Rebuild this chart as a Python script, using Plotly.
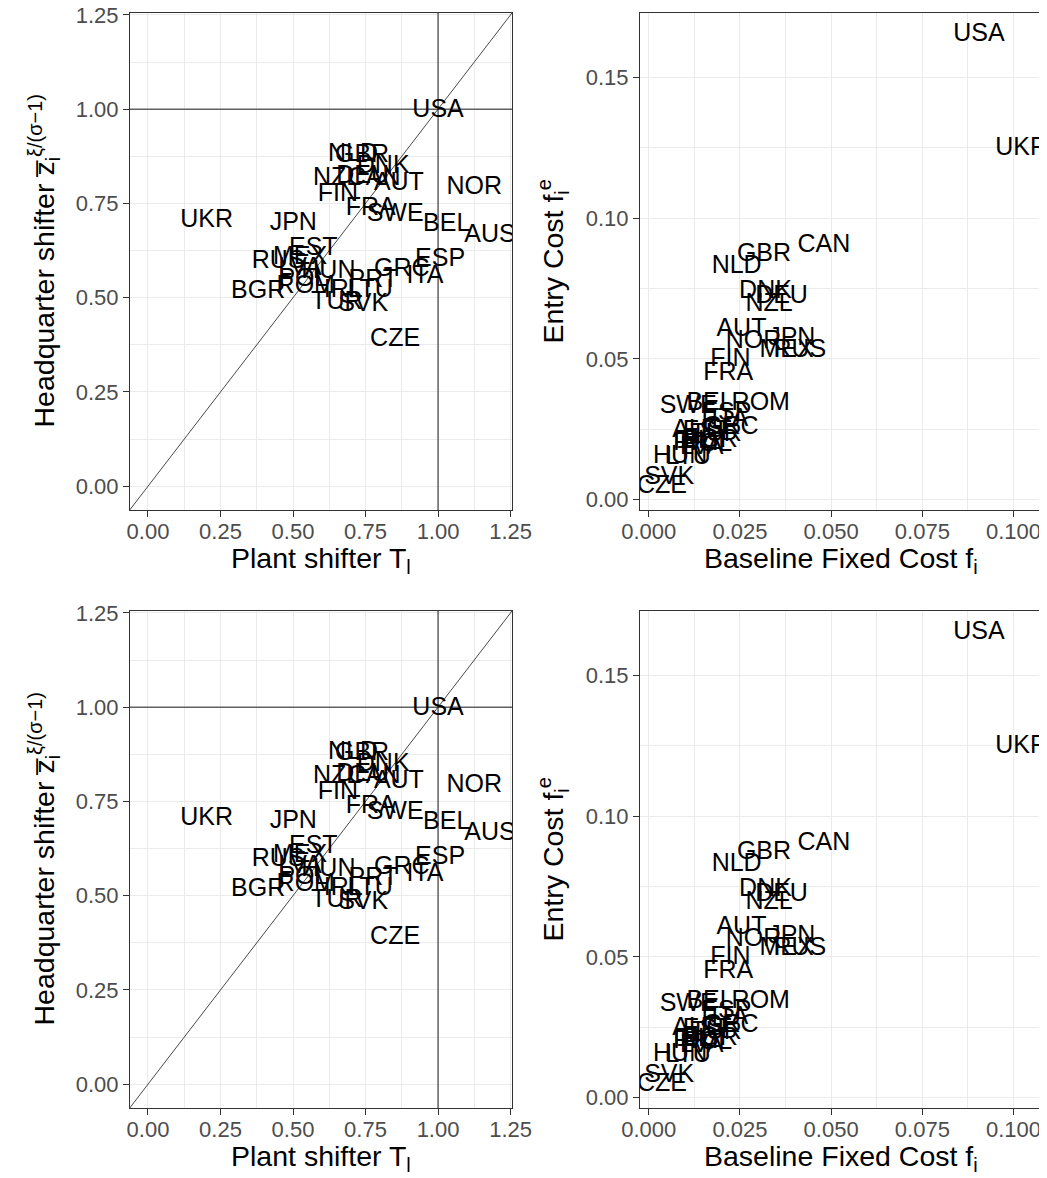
import plotly.graph_objects as go

# ---------------- data ----------------
countries = ["USA", "UKR", "CAN", "GBR", "NLD", "DNK", "DEU", "NZL", "AUT", "NOR", "JPN",
             "MEX", "AUS", "FIN", "FRA", "SWE", "BEL", "ROM", "ESP", "ITA", "GRC", "PRT",
             "POL", "IRL", "EST", "LVA", "HUN", "LTU", "SVK", "CZE", "TUR", "BGR", "RUS"]

plant_shifter = [1.000, 0.202, 0.780, 0.738, 0.707, 0.811, 0.740, 0.650, 0.865, 1.125, 0.501,
                 0.524, 1.179, 0.655, 0.768, 0.852, 1.030, 0.544, 1.007, 0.955, 0.875, 0.777,
                 0.536, 0.673, 0.570, 0.524, 0.622, 0.766, 0.742, 0.852, 0.651, 0.380, 0.449]

hq_shifter = [0.995, 0.705, 0.815, 0.876, 0.878, 0.847, 0.820, 0.815, 0.802, 0.791, 0.697,
              0.607, 0.664, 0.772, 0.735, 0.721, 0.693, 0.530, 0.601, 0.556, 0.574, 0.545,
              0.548, 0.519, 0.631, 0.578, 0.569, 0.519, 0.481, 0.388, 0.486, 0.516, 0.596]

fixed_cost = [0.0905, 0.1022, 0.0480, 0.0316, 0.0241, 0.0320, 0.0364, 0.0330, 0.0254, 0.0287, 0.0392,
              0.0378, 0.0135, 0.0224, 0.0218, 0.0108, 0.0168, 0.0307, 0.0213, 0.0222, 0.0225, 0.0135,
              0.0160, 0.0120, 0.0160, 0.0145, 0.0086, 0.0108, 0.0056, 0.0036, 0.0185, 0.0170, 0.0414]

entry_cost = [0.1650, 0.1245, 0.0902, 0.0871, 0.0829, 0.0740, 0.0722, 0.0693, 0.0604, 0.0560, 0.0572,
              0.0530, 0.0245, 0.0497, 0.0447, 0.0329, 0.0341, 0.0341, 0.0306, 0.0282, 0.0255, 0.0200,
              0.0195, 0.0205, 0.0240, 0.0185, 0.0154, 0.0147, 0.0079, 0.0044, 0.0230, 0.0210, 0.0530]

left_x_ticks = [0.0, 0.25, 0.5, 0.75, 1.0, 1.25]
left_y_ticks = [0.0, 0.25, 0.5, 0.75, 1.0, 1.25]
right_x_ticks = [0.0, 0.025, 0.05, 0.075, 0.1]
right_y_ticks = [0.0, 0.05, 0.1, 0.15]

reference_level = 1.0  # hline / vline in the left panels

# ---------------- layout helpers ----------------
PAGE_W, PAGE_H = 1047, 1178
OFF = 8  # default body margin of the html page
W, H = PAGE_W - OFF, PAGE_H - OFF
FONT = "Liberation Sans, Arial, sans-serif"


def xdom(a, b):
    return [(a - OFF) / W, (b - OFF) / W]


def ydom(top, bottom):
    return [1 - (bottom - OFF) / H, 1 - (top - OFF) / H]


def px_x(p):
    return (p - OFF) / W


def px_y(p):
    return 1 - (p - OFF) / H


left_xr = [-0.062, 1.255]
left_yr = [-0.063, 1.255]
right_xr = [-0.0024, 0.1078]
right_yr = [-0.0037, 0.1729]

cols = {"L": (130, 512), "R": (640, 1042)}
rows = [(13, 510), (611, 1108)]

fig = go.Figure()


def axis_common(rng, ticks, fmt, dt, dom, standoff):
    return dict(
        range=rng, domain=dom, tickvals=ticks, tickformat=fmt, automargin=False,
        showline=True, mirror=True, linecolor="#333333", linewidth=1.1,
        ticks="outside", ticklen=6, tickwidth=1.1, tickcolor="#333333",
        showgrid=True, gridcolor="#EBEBEB", gridwidth=1.3, zeroline=False,
        tickfont=dict(family=FONT, size=22, color="#4D4D4D"),
        ticklabeloverflow="allow", ticklabelstandoff=standoff,
        minor=dict(showgrid=True, gridcolor="#EBEBEB", gridwidth=0.7, dtick=dt / 2, tick0=0),
        fixedrange=True,
    )


annotations = []
shapes = []
idx = 0
for r, (top, bottom) in enumerate(rows):
    for side in ["L", "R"]:
        idx += 1
        xa = "x" if idx == 1 else f"x{idx}"
        ya = "y" if idx == 1 else f"y{idx}"
        xkey = "xaxis" if idx == 1 else f"xaxis{idx}"
        ykey = "yaxis" if idx == 1 else f"yaxis{idx}"
        c0, c1 = cols[side]
        if side == "L":
            xs, ys = plant_shifter, hq_shifter
            xr, yr = left_xr, left_yr
            fig.update_layout({
                xkey: dict(axis_common(xr, left_x_ticks, ".2f", 0.25, xdom(c0, c1), -4), anchor=ya),
                ykey: dict(axis_common(yr, left_y_ticks, ".2f", 0.25, ydom(top, bottom), 0), anchor=xa),
            })
            # reference lines
            shapes.append(dict(type="line", xref=xa, yref=ya, x0=xr[0], x1=xr[1],
                               y0=reference_level, y1=reference_level,
                               line=dict(color="#1a1a1a", width=1), layer="between"))
            shapes.append(dict(type="line", xref=xa, yref=ya, y0=yr[0], y1=yr[1],
                               x0=reference_level, x1=reference_level,
                               line=dict(color="#1a1a1a", width=1), layer="between"))
            lo = min(xr[0], yr[0])
            hi = max(xr[1], yr[1])
            shapes.append(dict(type="line", xref=xa, yref=ya, x0=lo, y0=lo, x1=hi, y1=hi,
                               line=dict(color="#1a1a1a", width=0.8), layer="between"))
            xtitle = "Plant shifter T<sub>l</sub>"
            ytitle = "Headquarter shifter z\u0305<sub>i</sub><sup>\u03be/(\u03c3\u22121)</sup>"
            ytx = 44
        else:
            xs, ys = fixed_cost, entry_cost
            xr, yr = right_xr, right_yr
            fig.update_layout({
                xkey: dict(axis_common(xr, right_x_ticks, ".3f", 0.025, xdom(c0, c1), -4), anchor=ya),
                ykey: dict(axis_common(yr, right_y_ticks, ".2f", 0.05, ydom(top, bottom), 0), anchor=xa),
            })
            xtitle = "Baseline Fixed Cost f<sub>i</sub>"
            ytitle = "Entry Cost f<sub>i</sub><sup>e</sup>"
            ytx = 553

        fig.add_trace(go.Scatter(
            x=xs, y=ys, text=countries, mode="text", xaxis=xa, yaxis=ya,
            textposition="middle center", cliponaxis=True,
            textfont=dict(family=FONT, size=25, color="black"),
            hoverinfo="skip", showlegend=False,
        ))

        annotations.append(dict(
            text=xtitle, xref="paper", yref="paper", x=px_x((c0 + c1) / 2), y=px_y(bottom + 50),
            xanchor="center", yanchor="middle", showarrow=False,
            font=dict(family=FONT, size=28.5, color="black"),
        ))
        annotations.append(dict(
            text=ytitle, xref="paper", yref="paper", x=px_x(ytx), y=px_y((top + bottom) / 2),
            xanchor="center", yanchor="middle", showarrow=False, textangle=-90,
            font=dict(family=FONT, size=28.5, color="black"),
        ))

fig.update_layout(
    template="none",
    width=W, height=H, margin=dict(l=0, r=0, t=0, b=0, pad=0, autoexpand=False),
    paper_bgcolor="white", plot_bgcolor="white",
    annotations=annotations, shapes=shapes, showlegend=False,
    font=dict(family=FONT),
)

fig.write_html("out.html")
